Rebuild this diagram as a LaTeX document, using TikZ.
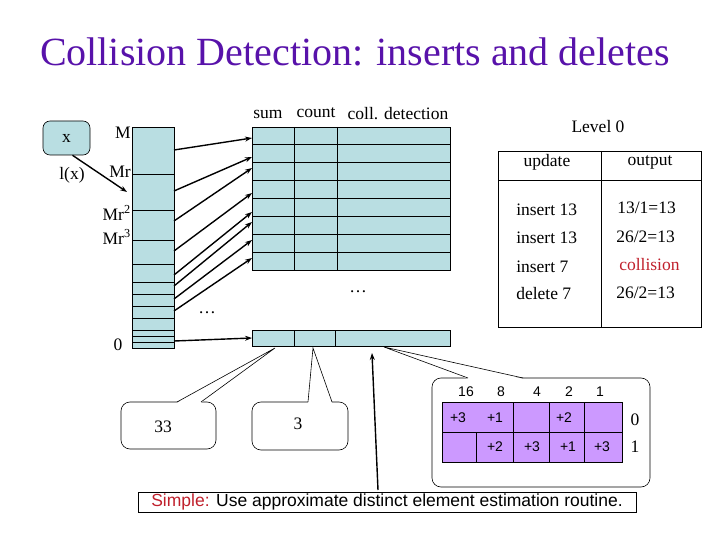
\documentclass[tikz,border=0pt]{standalone}
\usepackage{fontspec}
\setmainfont{Liberation Serif}
\setsansfont{Liberation Sans}
\usetikzlibrary{arrows.meta}
\definecolor{cellblue}{RGB}{185,222,226}
\definecolor{bitpurple}{RGB}{204,153,255}
\definecolor{titlepurple}{RGB}{88,18,170}
\definecolor{simplered}{RGB}{192,32,44}
\tikzset{
  lbl/.style={font=\fontsize{17.5}{20}\selectfont, inner sep=0pt},
  bit/.style={font=\sffamily\fontsize{14}{16}\selectfont, inner sep=0pt},
  callout/.style={draw, fill=white, rounded corners=9pt},
  link/.style={-{Stealth[length=7pt,width=5pt]}, line width=1.4pt},
}
\begin{document}
\begin{tikzpicture}[x=1pt, y=-1pt, line width=0.6pt]
  \useasboundingbox (0,0) rectangle (720,540);
  \node[font=\fontsize{40}{44}\selectfont, text=titlepurple] (title) at (355,52) {Collision Detection: inserts and deletes};

  % the element x and its level
  \node[draw, fill=cellblue, rounded corners=7pt, minimum width=47pt, minimum height=34pt, lbl] (xbox) at (66.5,138) {x};
  \node[lbl] (lx) at (72,175) {l(x)};
  \coordinate (lvl) at (127,192);
  \draw[link] ([xshift=6pt]xbox.south) -- (lvl);

  % levels M, Mr, Mr^2, ...
  \filldraw[fill=cellblue] (132,127) rectangle (174,348);
  \foreach \y in {174,210,240,264,282,294,306,318,330,336,342}
    \draw (132,\y) -- (174,\y);
  \node[lbl, anchor=east] (m0) at (131,133) {M};
  \node[lbl, anchor=east] (m1) at (131,172) {Mr};
  \node[lbl, anchor=east] (m2) at (131,213) {Mr\textsuperscript{2}};
  \node[lbl, anchor=east] (m3) at (131,237) {Mr\textsuperscript{3}};
  \node[lbl] (zero) at (118,345) {0};

  % table of counters
  \node[lbl] (hsum) at (268,114) {sum};
  \node[lbl] (hcount) at (316,113) {count};
  \node[lbl] (hcoll) at (398,114) {coll. detection};
  \filldraw[fill=cellblue] (252,127) rectangle (450,270);
  \foreach \y in {144,162,180,198,216,234,252}
    \draw (252,\y) -- (450,\y);
  \draw (294,127) -- (294,270) (337,127) -- (337,270);
  \filldraw[fill=cellblue] (252,330) rectangle (450,346);
  \draw (294,330) -- (294,346) (335,330) -- (335,346);
  \node[lbl] (dots1) at (358,292) {\ldots};
  \node[lbl] (dots2) at (207,313) {\ldots};

  \foreach \a/\b [count=\i] in {150/138,191/157,221/168,251/193,275/212,286/222,299/240,311/258,341/338} {
    \coordinate (c\i) at (174,\a);
    \coordinate (t\i) at (252,\b);
    \draw[link] (c\i) -- (t\i);
  }

  % level 0 table
  \node[lbl] (level) at (598,127) {Level 0};
  \draw (498,151) rectangle (701,327);
  \draw (498,180) -- (701,180) (601,151) -- (601,327);
  \node[lbl] (hupd) at (547,162) {update};
  \node[lbl] (hout) at (650,162) {output};
  \node[lbl, anchor=west] (u1) at (516,210) {insert 13};
  \node[lbl, anchor=west] (u2) at (516,238) {insert 13};
  \node[lbl, anchor=west] (u3) at (516,267) {insert 7};
  \node[lbl, anchor=west] (u4) at (516,294) {delete 7};
  \node[lbl, anchor=west] (o1) at (617,208) {13/1=13};
  \node[lbl, anchor=west] (o2) at (616,237) {26/2=13};
  \node[lbl, anchor=west, text=simplered] (o3) at (619,265) {collision};
  \node[lbl, anchor=west] (o4) at (616,293) {26/2=13};

  % callouts
  \draw[callout] (121,402) rectangle (216,449);
  \fill[white] (177,402.8) -- (275,348) -- (201,402.8) -- cycle;
  \draw (177,402) -- (275,348) -- (201,402);
  \node[lbl] (sumval) at (163,427) {33};

  \draw[callout] (252,402) rectangle (348,450);
  \fill[white] (308,402.8) -- (313,348) -- (332,402.8) -- cycle;
  \draw (308,402) -- (313,348) -- (332,402);
  \node[lbl] (cntval) at (298,424) {3};

  \draw[callout] (432,378) rectangle (650,487);
  \fill[white] (468,378.8) -- (384,347) -- (523,378.8) -- cycle;
  \draw (468,378) -- (384,347) -- (523,378);

  % bit counters
  \filldraw[fill=bitpurple] (442,402) rectangle (622,462);
  \draw (442,432) -- (622,432);
  \foreach \x in {513,549,584} \draw (\x,402) -- (\x,462);
  \draw (476,432) -- (476,462);
  \foreach \x/\t in {466/16,501/8,537/4,569/2,600/1}
    \node[bit] at (\x,392) {\t};
  \foreach \x/\t in {458/+3,495/+1,564/+2}
    \node[bit] at (\x,418) {\t};
  \foreach \x/\t in {495/+2,532/+3,568/+1,602/+3}
    \node[bit] at (\x,447) {\t};
  \node[lbl] (row0) at (635,420) {0};
  \node[lbl] (row1) at (635,447) {1};

  % pointer to coll. detection
  \coordinate (cdtail) at (378,490);
  \coordinate (cdhead) at (372,353);
  \draw[link] (cdtail) -- (cdhead);

  \node[draw, minimum width=498pt, minimum height=20pt, inner sep=0pt, font=\sffamily\fontsize{17.5}{19}\selectfont] (simple) at (387,502)
    {\textcolor{simplered}{Simple:} Use approximate distinct element estimation routine.};
\end{tikzpicture}
\end{document}
